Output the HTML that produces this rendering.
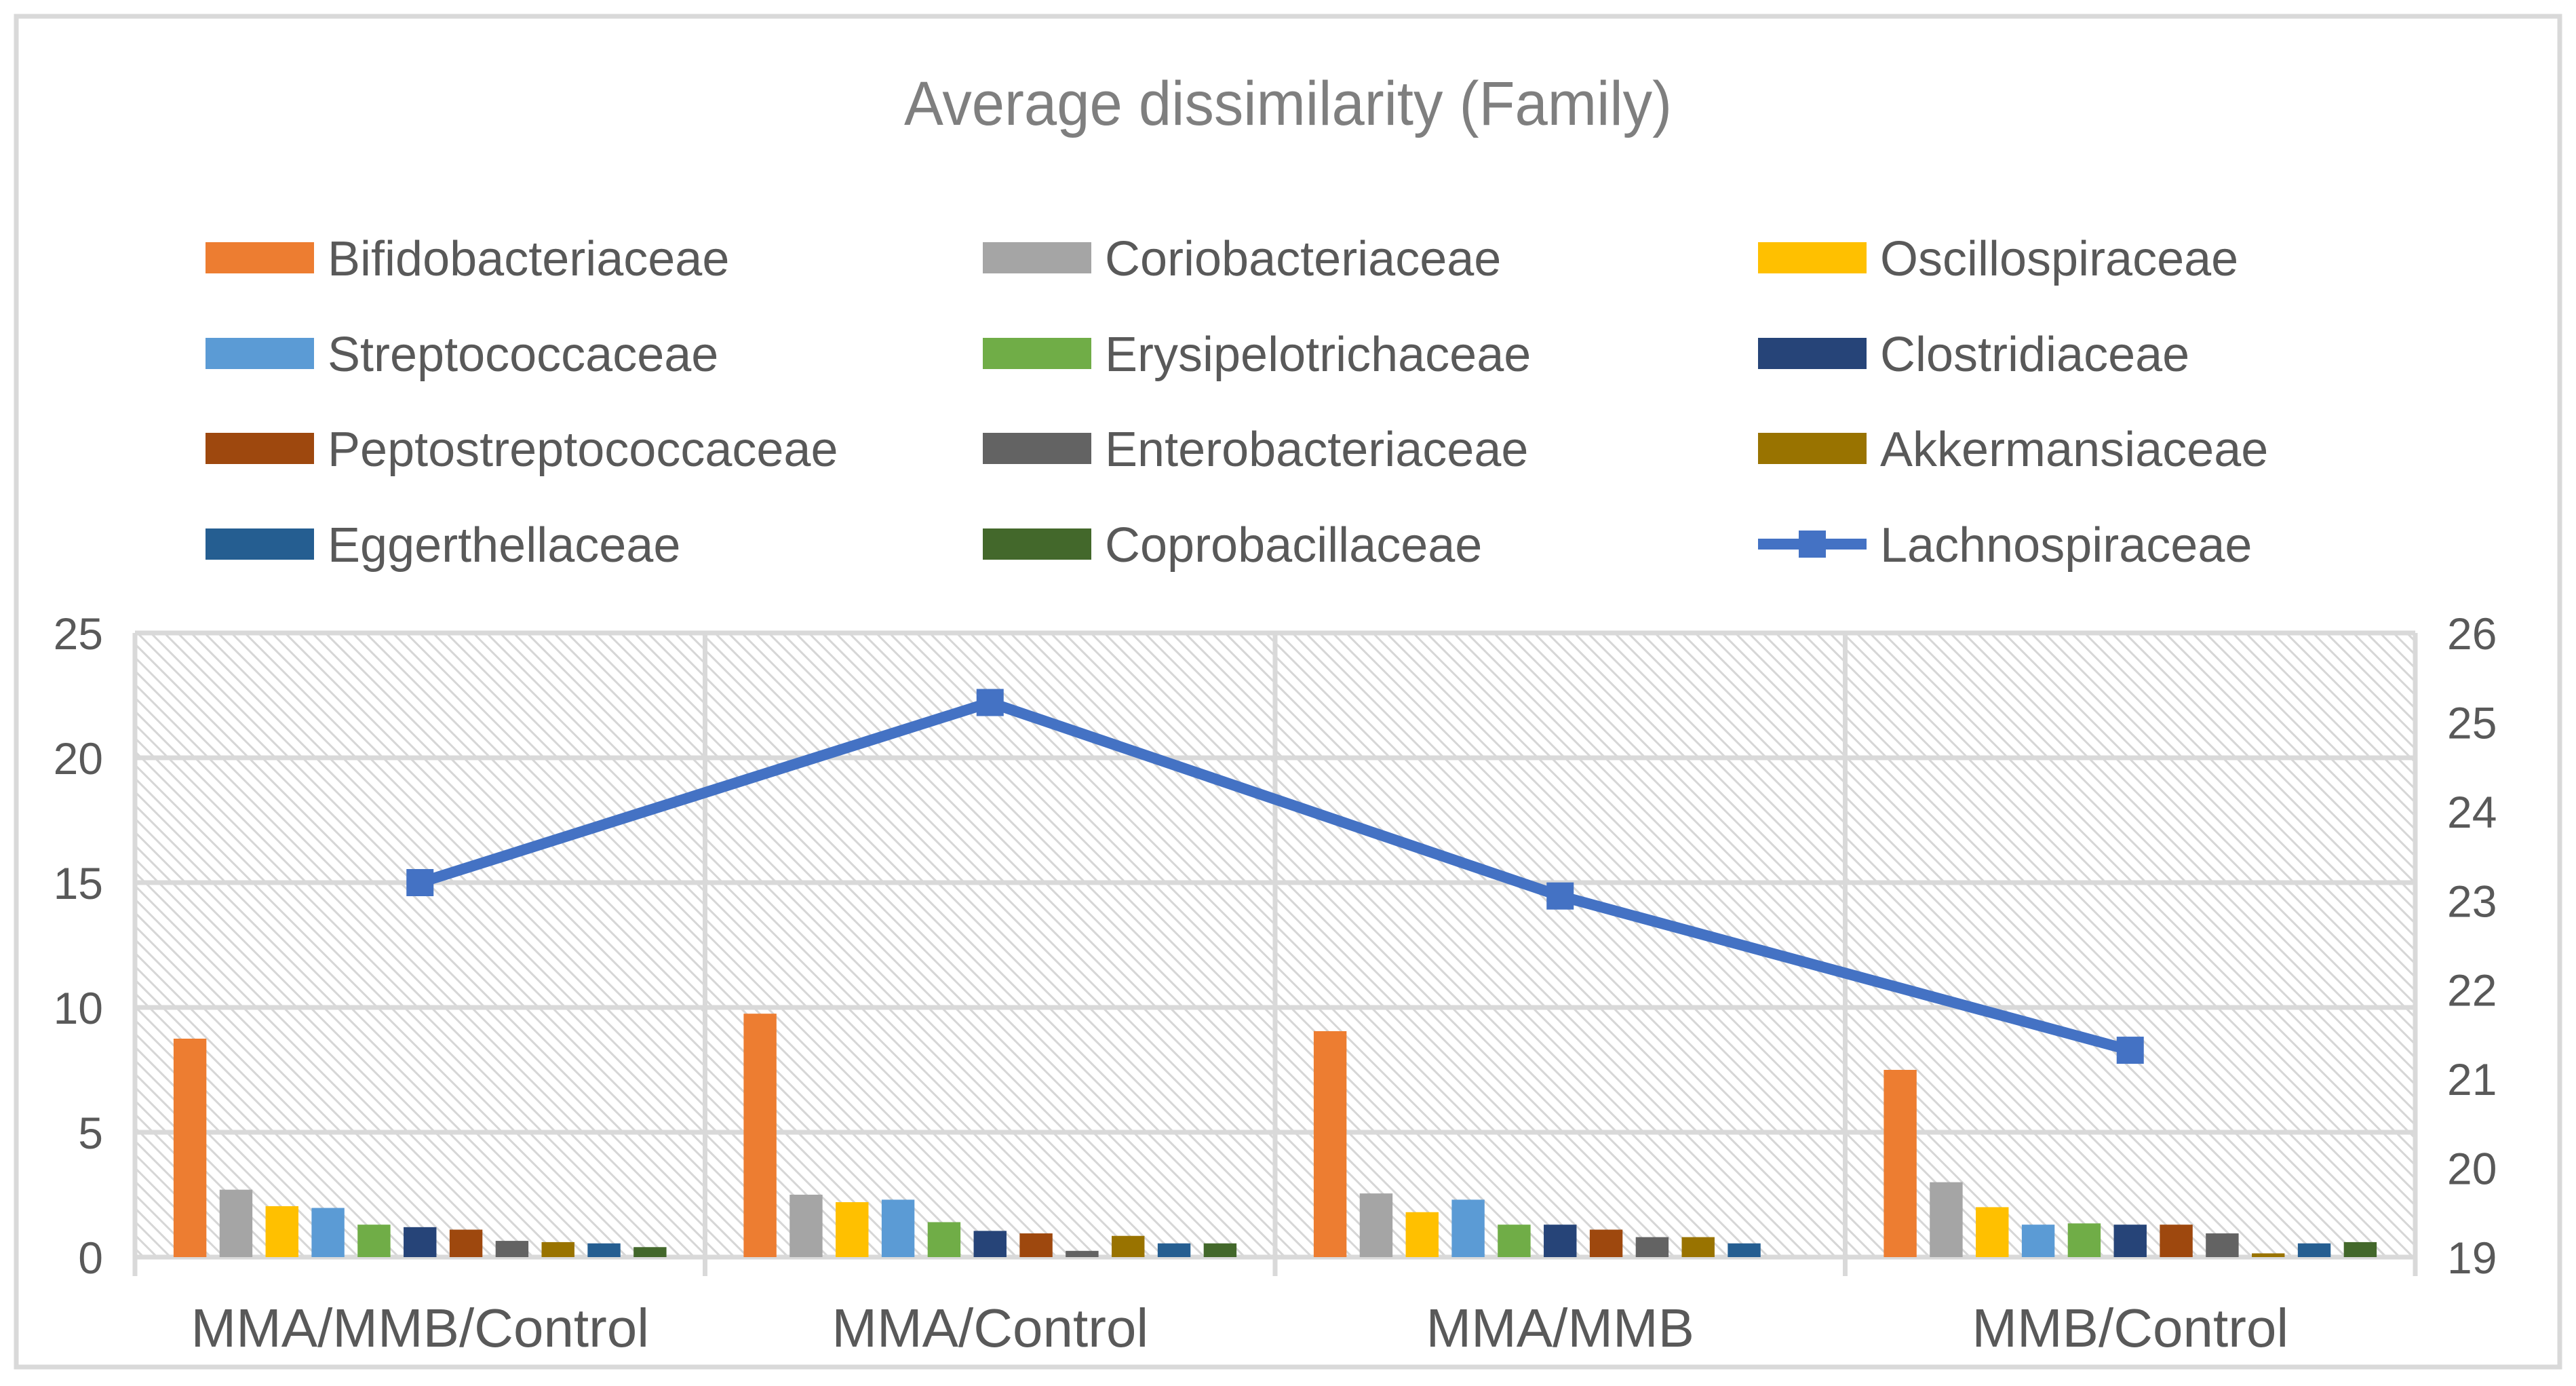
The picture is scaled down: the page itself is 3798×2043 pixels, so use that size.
<!DOCTYPE html>
<html><head><meta charset="utf-8"><style>
html,body{margin:0;padding:0;background:#fff;}
svg{display:block;font-family:"Liberation Sans",sans-serif;}
</style></head><body>
<svg id="chart" width="3798" height="2043" viewBox="0 0 3798 2043" xmlns="http://www.w3.org/2000/svg">
<defs>
<pattern id="hatch" width="14" height="14" patternUnits="userSpaceOnUse" patternTransform="rotate(-45)">
<rect width="14" height="14" fill="#ffffff"/>
<line x1="0" y1="0" x2="0" y2="14" stroke="#d6d6d6" stroke-width="6"/>
</pattern>
</defs>
<rect x="24" y="24" width="3750" height="1991" fill="#fff" stroke="#d9d9d9" stroke-width="7"/>
<text x="1899" y="184" text-anchor="middle" font-size="92" fill="#7f7f7f" textLength="1132" lengthAdjust="spacingAndGlyphs">Average dissimilarity (Family)</text>
<g id="legend"></g>
<g id="plot"></g>
</svg>
<script>
const categories = ["MMA/MMB/Control","MMA/Control","MMA/MMB","MMB/Control"];
const seriesNames = ["Bifidobacteriaceae","Coriobacteriaceae","Oscillospiraceae","Streptococcaceae","Erysipelotrichaceae","Clostridiaceae","Peptostreptococcaceae","Enterobacteriaceae","Akkermansiaceae","Eggerthellaceae","Coprobacillaceae"];
const seriesColors = ["#ED7D31","#A5A5A5","#FFC000","#5B9BD5","#70AD47","#264478","#9E480E","#636363","#997300","#255E91","#43682B"];
const bifido = [8.75, 9.75, 9.05, 7.5];
const corio = [2.7, 2.5, 2.55, 3.0];
const oscillo = [2.04, 2.2, 1.8, 2.0];
const strepto = [1.97, 2.3, 2.3, 1.3];
const erysip = [1.3, 1.4, 1.3, 1.35];
const clostr = [1.2, 1.05, 1.3, 1.3];
const pepto = [1.1, 0.95, 1.1, 1.3];
const entero = [0.65, 0.25, 0.8, 0.95];
const akker = [0.6, 0.85, 0.8, 0.15];
const egger = [0.55, 0.55, 0.55, 0.55];
const copro = [0.4, 0.55, 0, 0.6];
const lachno = [23.2, 25.22, 23.05, 21.32];
const leftTicks = [0,5,10,15,20,25];
const rightTicks = [19,20,21,22,23,24,25,26];
const barSeries = [bifido,corio,oscillo,strepto,erysip,clostr,pepto,entero,akker,egger,copro];

const NS="http://www.w3.org/2000/svg";
const L=199,R=3561,T=933,B=1853;
const yL=v=>B-(v-0)/(25-0)*(B-T);
const yR=v=>B-(v-19)/(26-19)*(B-T);
const gw=(R-L)/categories.length;
const pitch=gw*0.0807, bw=gw*0.0576;
const off=(gw-(10*pitch+bw))/2;
const xBar=(c,s)=>L+c*gw+off+s*pitch;
const xCat=c=>L+(c+0.5)*gw;
function mk(tag,attrs,parent,txt){const e=document.createElementNS(NS,tag);for(const k in attrs)e.setAttribute(k,attrs[k]);if(txt!==undefined)e.textContent=txt;parent.appendChild(e);return e;}
const plot=document.getElementById('plot');
const legend=document.getElementById('legend');

let bg=mk('rect',{x:L,y:T,width:R-L,height:B-T,fill:'url(#hatch)'},plot);


leftTicks.forEach(v=>{
  let g=mk('line',{x1:L,x2:R,y1:yL(v),y2:yL(v),stroke:'#d9d9d9','stroke-width':7},plot);
  
  
  let t=mk('text',{x:152,y:yL(v)+24,'text-anchor':'end','font-size':66,fill:'#595959'},plot,String(v));
  
  
});
rightTicks.forEach(v=>{
  let t=mk('text',{x:3608,y:yR(v)+24,'text-anchor':'start','font-size':66,fill:'#595959'},plot,String(v));
  
  
});
for(let c=0;c<=categories.length;c++){
  let x=L+c*gw;
  let g=mk('line',{x1:x,x2:x,y1:T,y2:B+28,stroke:'#d9d9d9','stroke-width':7},plot);
  
  
}
categories.forEach((cat,c)=>{
  let t=mk('text',{x:xCat(c),y:1985,'text-anchor':'middle','font-size':80,fill:'#595959'},plot,cat);
  
  
});
barSeries.forEach((arr,s)=>{
  arr.forEach((v,c)=>{
    if(v<=0)return;
    let r=mk('rect',{x:xBar(c,s),y:yL(v),width:bw,height:yL(0)-yL(v),fill:seriesColors[s]},plot);
    
    
  });
});
let pts=lachno.map((v,c)=>xCat(c)+','+yR(v)).join(' ');
let pl=mk('polyline',{points:pts,fill:'none',stroke:'#4472C4','stroke-width':16,'stroke-linejoin':'round'},plot);


lachno.forEach((v,c)=>{
  let m=mk('rect',{x:xCat(c)-20,y:yR(v)-20,width:40,height:40,fill:'#4472C4'},plot);
  
  
});

const legNames=seriesNames.concat(["Lachnospiraceae"]);
const colX=[303,1449,2592], rowY=[380,521,661,802];
legNames.forEach((n,i)=>{
  const col=i%3,row=Math.floor(i/3);
  const x=colX[col],y=rowY[row];
  let g=mk('g',{},legend);
  
  
  if(i<11){
    mk('rect',{x:x,y:y-23,width:160,height:46,fill:seriesColors[i]},g);
  }else{
    mk('line',{x1:x,x2:x+160,y1:y,y2:y,stroke:'#4472C4','stroke-width':16},g);
    mk('rect',{x:x+60,y:y-20,width:40,height:40,fill:'#4472C4'},g);
  }
  mk('text',{x:x+180,y:y+26,'font-size':72,fill:'#595959'},g,n);
});
</script>
</body></html>
